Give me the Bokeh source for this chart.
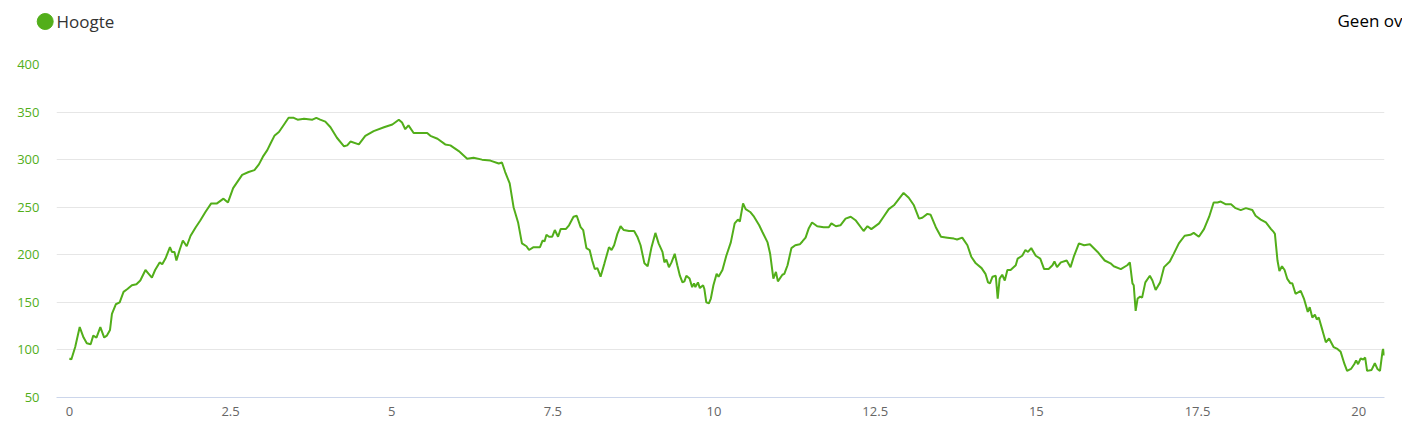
from bokeh.plotting import figure
from bokeh.layouts import column
from bokeh.models import Range1d, FixedTicker, Label
from bokeh.embed import file_html
from bokeh.resources import INLINE

# Distance along route (km) and elevation (m)
afstand = [0.00, 0.03, 0.09, 0.16, 0.22, 0.27, 0.33, 0.37, 0.42, 0.48, 0.54, 0.58, 0.63, 0.66, 0.72,
           0.78, 0.84, 0.90, 0.97, 1.04, 1.10, 1.18, 1.23, 1.28, 1.33, 1.40, 1.44, 1.49, 1.56, 1.59,
           1.63, 1.66, 1.71, 1.76, 1.82, 1.88, 1.96, 2.03, 2.11, 2.20, 2.29, 2.39, 2.46, 2.54, 2.59,
           2.68, 2.78, 2.87, 2.94, 3.01, 3.07, 3.12, 3.18, 3.25, 3.33, 3.40, 3.48, 3.54, 3.64, 3.77,
           3.83, 3.89, 3.97, 4.05, 4.15, 4.26, 4.31, 4.36, 4.49, 4.59, 4.72, 4.88, 5.01, 5.11, 5.16,
           5.21, 5.26, 5.34, 5.45, 5.55, 5.60, 5.71, 5.83, 5.91, 6.04, 6.17, 6.27, 6.40, 6.53, 6.66,
           6.71, 6.76, 6.83, 6.89, 6.96, 7.02, 7.09, 7.13, 7.20, 7.30, 7.34, 7.37, 7.40, 7.44, 7.49,
           7.53, 7.58, 7.62, 7.70, 7.75, 7.82, 7.87, 7.93, 7.97, 8.02, 8.07, 8.11, 8.15, 8.19, 8.24,
           8.30, 8.37, 8.41, 8.45, 8.50, 8.55, 8.60, 8.68, 8.76, 8.81, 8.86, 8.92, 8.97, 9.03, 9.09,
           9.14, 9.20, 9.23, 9.26, 9.30, 9.34, 9.39, 9.43, 9.47, 9.51, 9.54, 9.57, 9.62, 9.66, 9.69,
           9.71, 9.75, 9.78, 9.83, 9.85, 9.88, 9.92, 9.95, 9.99, 10.04, 10.07, 10.13, 10.19, 10.26, 10.32,
           10.37, 10.40, 10.45, 10.49, 10.56, 10.62, 10.70, 10.75, 10.83, 10.87, 10.92, 10.96, 10.99, 11.06, 11.09,
           11.14, 11.20, 11.26, 11.33, 11.37, 11.42, 11.47, 11.52, 11.60, 11.70, 11.78, 11.82, 11.89, 11.96, 12.04,
           12.12, 12.20, 12.32, 12.38, 12.44, 12.56, 12.63, 12.71, 12.79, 12.94, 13.02, 13.10, 13.18, 13.23, 13.31,
           13.36, 13.44, 13.52, 13.62, 13.72, 13.77, 13.85, 13.93, 13.99, 14.06, 14.15, 14.21, 14.25, 14.28, 14.32,
           14.37, 14.40, 14.43, 14.47, 14.51, 14.55, 14.60, 14.68, 14.71, 14.78, 14.83, 14.87, 14.92, 14.99, 15.06,
           15.12, 15.19, 15.25, 15.28, 15.32, 15.38, 15.47, 15.53, 15.58, 15.66, 15.74, 15.83, 15.95, 16.06, 16.15,
           16.20, 16.31, 16.41, 16.45, 16.49, 16.51, 16.54, 16.57, 16.61, 16.64, 16.69, 16.76, 16.80, 16.85, 16.92,
           16.98, 17.07, 17.13, 17.21, 17.30, 17.39, 17.44, 17.52, 17.60, 17.68, 17.75, 17.81, 17.86, 17.94, 18.02,
           18.09, 18.17, 18.25, 18.35, 18.40, 18.48, 18.56, 18.64, 18.68, 18.70, 18.74, 18.77, 18.81, 18.85, 18.89,
           18.94, 18.97, 19.02, 19.10, 19.15, 19.21, 19.24, 19.28, 19.32, 19.35, 19.38, 19.44, 19.49, 19.54, 19.61,
           19.67, 19.72, 19.78, 19.82, 19.88, 19.93, 19.96, 19.99, 20.03, 20.07, 20.10, 20.13, 20.20, 20.25, 20.29,
           20.33, 20.37, 20.38, 20.40]

hoogte = [91, 90, 103, 124, 113, 107, 106, 115, 113, 124, 113, 115, 121, 138, 148,
          150, 161, 164, 168, 169, 173, 184, 180, 176, 184, 192, 190, 196, 208, 203,
          203, 194, 205, 215, 209, 220, 229, 236, 245, 254, 254, 259, 255, 270, 275,
          284, 287, 289, 295, 304, 310, 317, 325, 329, 337, 344, 344, 342, 343, 342,
          344, 342, 340, 334, 323, 314, 315, 319, 316, 325, 330, 334, 337, 342, 339,
          332, 336, 328, 328, 328, 325, 322, 316, 315, 309, 301, 302, 300, 299, 296,
          297, 287, 275, 250, 234, 212, 209, 205, 208, 208, 215, 214, 221, 219, 219,
          226, 219, 227, 227, 231, 240, 241, 229, 226, 207, 205, 194, 185, 186, 177,
          191, 208, 205, 210, 222, 230, 226, 225, 225, 219, 210, 191, 188, 208, 223,
          212, 203, 192, 195, 187, 192, 201, 189, 178, 171, 172, 178, 175, 166, 170,
          166, 171, 165, 168, 164, 150, 149, 154, 168, 180, 177, 184, 199, 213, 233,
          237, 235, 254, 248, 245, 240, 231, 224, 213, 201, 175, 182, 172, 179, 180,
          189, 207, 210, 211, 214, 218, 228, 234, 230, 229, 229, 233, 230, 231, 238,
          240, 236, 225, 230, 227, 233, 240, 248, 252, 265, 260, 252, 238, 239, 243,
          242, 229, 219, 218, 217, 216, 218, 210, 198, 191, 186, 180, 171, 170, 177,
          178, 154, 175, 179, 173, 184, 184, 189, 196, 199, 205, 203, 207, 199, 196,
          185, 185, 189, 193, 187, 192, 194, 187, 198, 212, 210, 211, 203, 194, 191,
          188, 185, 189, 192, 170, 168, 141, 154, 156, 155, 171, 178, 173, 163, 171,
          187, 193, 201, 212, 220, 221, 223, 219, 227, 240, 255, 255, 256, 253, 253,
          249, 247, 249, 247, 241, 237, 234, 227, 224, 222, 194, 183, 188, 184, 175,
          170, 170, 159, 162, 154, 140, 145, 134, 137, 132, 134, 120, 108, 112, 103,
          101, 98, 85, 78, 80, 85, 89, 85, 91, 90, 92, 78, 79, 86, 80,
          78, 99, 101, 94]

x_ticks = [0, 2.5, 5, 7.5, 10, 12.5, 15, 17.5, 20]
x_tick_labels = ["0", "2.5", "5", "7.5", "10", "12.5", "15", "17.5", "20"]
y_ticks = [50, 100, 150, 200, 250, 300, 350, 400]

serie_naam = "Hoogte"
rechts_tekst = "Geen ov"

GREEN = "#52ae1a"
FONT = "Open Sans"
W = 1402
HEADER_H = 40

# ---- header with legend entry and right-hand text ----
head = figure(width=W, height=HEADER_H, output_backend="svg", toolbar_location=None,
              x_range=Range1d(0, W), y_range=Range1d(HEADER_H, 0),
              x_axis_location=None, y_axis_location=None,
              min_border_left=0, min_border_right=0, min_border_top=0, min_border_bottom=0)
head.frame_align = False
head.outline_line_color = None
head.xgrid.grid_line_color = None
head.ygrid.grid_line_color = None
head.scatter([44.7], [21], marker="circle", size=16, fill_color=GREEN, line_color=GREEN)
head.add_layout(Label(x=56, y=21, text=serie_naam, text_font=FONT, text_font_size="17px",
                      text_color="#333333", text_baseline="middle", text_align="left"))
head.add_layout(Label(x=1337, y=20, text=rechts_tekst, text_font=FONT, text_font_size="17px",
                      text_color="#000000", text_baseline="middle", text_align="left"))

# ---- main chart ----
p = figure(width=W, height=432 - HEADER_H, output_backend="svg", toolbar_location=None,
           x_range=Range1d(-0.2, 20.40), y_range=Range1d(50, 400),
           min_border_left=56, min_border_right=18, min_border_top=64 - HEADER_H, min_border_bottom=35)
p.frame_align = False
p.outline_line_color = None

p.line(afstand, hoogte, line_color=GREEN, line_width=2)

# x axis
p.xaxis.ticker = FixedTicker(ticks=x_ticks)
p.xaxis.major_label_overrides = {t: l for t, l in zip(x_ticks, x_tick_labels)}
p.xaxis.axis_line_color = "#ccd6eb"
p.xaxis.axis_line_width = 1
p.xaxis.major_tick_line_color = None
p.xaxis.minor_tick_line_color = None
p.xaxis.major_label_text_color = "#666666"
p.xaxis.major_label_text_font = FONT
p.xaxis.major_label_text_font_size = "13px"
p.xaxis.major_label_standoff = 3

# y axis
p.yaxis.ticker = FixedTicker(ticks=y_ticks)
p.yaxis.axis_line_color = None
p.yaxis.major_tick_line_color = None
p.yaxis.minor_tick_line_color = None
p.yaxis.major_label_text_color = GREEN
p.yaxis.major_label_text_font = FONT
p.yaxis.major_label_text_font_size = "13px"
p.yaxis.major_label_standoff = 11

p.xgrid.grid_line_color = None
p.ygrid.grid_line_color = "#e6e6e6"
p.ygrid.ticker = FixedTicker(ticks=y_ticks[1:])

layout = column(head, p, spacing=0)
open("out.html", "w").write(file_html(layout, INLINE))
